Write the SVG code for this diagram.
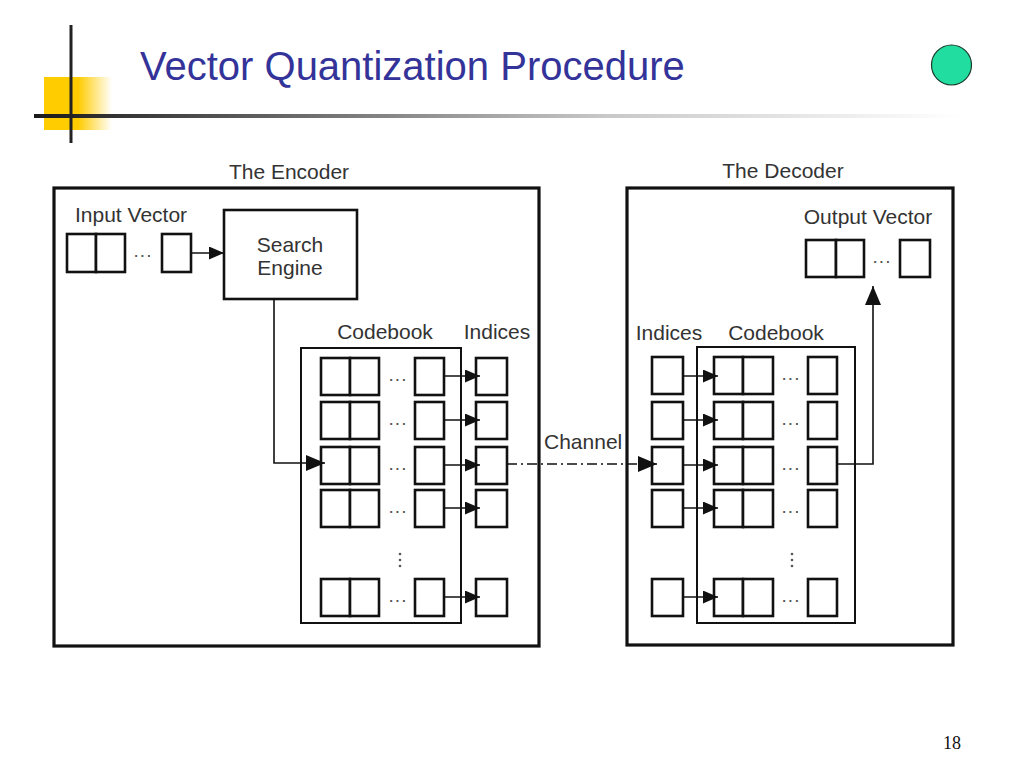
<svg xmlns="http://www.w3.org/2000/svg" width="1024" height="768" viewBox="0 0 1024 768">
<defs>
  <linearGradient id="hline" gradientUnits="userSpaceOnUse" x1="34" y1="0" x2="1000" y2="0">
    <stop offset="0" stop-color="#1a1a1a"/>
    <stop offset="0.59" stop-color="#c8c8c8"/>
    <stop offset="0.96" stop-color="#ffffff"/>
  </linearGradient>
  <linearGradient id="yel" gradientUnits="userSpaceOnUse" x1="44" y1="0" x2="112" y2="0">
    <stop offset="0" stop-color="#FFCC00"/>
    <stop offset="0.5" stop-color="#FFCC00"/>
    <stop offset="1" stop-color="#FFCC00" stop-opacity="0"/>
  </linearGradient>
  <marker id="arr" markerUnits="userSpaceOnUse" markerWidth="15" markerHeight="13" refX="15" refY="6.5" orient="auto">
    <path d="M0,0 L15,6.5 L0,13 Z" fill="#111"/>
  </marker>
  <marker id="arrB" markerUnits="userSpaceOnUse" markerWidth="19" markerHeight="16" refX="19" refY="8" orient="auto">
    <path d="M0,0 L19,8 L0,16 Z" fill="#111"/>
  </marker>
  <style>
    .lbl { font-family: "Liberation Sans", Arial, sans-serif; font-size: 21px; fill: #333; }
    .mid { text-anchor: middle; }
    .dots { font-family: "Liberation Sans", Arial, sans-serif; font-size: 19px; fill: #555; text-anchor: middle; letter-spacing: 1px; }
    .outer { fill: none; stroke: #111; stroke-width: 3.2; }
    .cb { fill: none; stroke: #111; stroke-width: 2; }
    .cell { fill: #fff; stroke: #111; stroke-width: 2.6; }
    .con { fill: none; stroke: #111; stroke-width: 1.6; }
    .vd { fill: #555; }
  </style>
</defs>
<rect width="1024" height="768" fill="#fff"/>

<!-- header decoration -->
<g id="header">
  <rect x="44" y="77" width="68" height="53" fill="url(#yel)"/>
  <rect x="34" y="114" width="966" height="4" fill="url(#hline)"/>
  <line x1="71" y1="25" x2="71" y2="143" stroke="#222" stroke-width="3"/>
  <text x="140" y="80" font-family="'Liberation Sans', Arial, sans-serif" font-size="40" fill="#333399">Vector Quantization Procedure</text>
  <circle cx="951.5" cy="65" r="20" fill="#22DDA0" stroke="#1b3b2b" stroke-width="1.2"/>
  <text x="952" y="749" font-family="'Liberation Serif', 'Times New Roman', serif" font-size="18" fill="#111" text-anchor="middle">18</text>
</g>

<!-- Encoder -->
<g id="encoder">
  <rect class="outer" x="54" y="188" width="485" height="458"/>
  <text class="lbl mid" x="289" y="179">The Encoder</text>
</g>
<g id="input-vector">
  <text class="lbl" x="75" y="222">Input Vector</text>
  <rect class="cell" x="67" y="234" width="29" height="38"/>
  <rect class="cell" x="96" y="234" width="29" height="38"/>
  <text class="dots" x="143" y="257">...</text>
  <rect class="cell" x="162" y="234" width="29" height="38"/>
</g>
<g id="search-engine">
  <rect class="cell" x="224" y="210" width="133" height="89"/>
  <text class="lbl mid" x="290" y="252">Search</text>
  <text class="lbl mid" x="290" y="275">Engine</text>
</g>
<g id="enc-codebook">
  <text class="lbl mid" x="385" y="339">Codebook</text>
  <rect class="cb" x="301" y="348" width="160" height="275"/>
  <g>
    <rect class="cell" x="321" y="358" width="29" height="37"/><rect class="cell" x="350" y="358" width="29" height="37"/>
    <text class="dots" x="398" y="381">...</text><rect class="cell" x="415" y="358" width="29" height="37"/>
    <rect class="cell" x="321" y="402" width="29" height="37"/><rect class="cell" x="350" y="402" width="29" height="37"/>
    <text class="dots" x="398" y="425">...</text><rect class="cell" x="415" y="402" width="29" height="37"/>
    <rect class="cell" x="321" y="447" width="29" height="37"/><rect class="cell" x="350" y="447" width="29" height="37"/>
    <text class="dots" x="398" y="470">...</text><rect class="cell" x="415" y="447" width="29" height="37"/>
    <rect class="cell" x="321" y="490" width="29" height="37"/><rect class="cell" x="350" y="490" width="29" height="37"/>
    <text class="dots" x="398" y="513">...</text><rect class="cell" x="415" y="490" width="29" height="37"/>
    <rect class="cell" x="321" y="579" width="29" height="37"/><rect class="cell" x="350" y="579" width="29" height="37"/>
    <text class="dots" x="398" y="602">...</text><rect class="cell" x="415" y="579" width="29" height="37"/>
    <circle class="vd" cx="400" cy="554" r="1.3"/><circle class="vd" cx="400" cy="560" r="1.3"/><circle class="vd" cx="400" cy="566" r="1.3"/>
  </g>
</g>
<g id="enc-indices">
  <text class="lbl mid" x="497" y="339">Indices</text>
  <rect class="cell" x="476" y="358" width="31" height="37"/>
  <rect class="cell" x="476" y="402" width="31" height="37"/>
  <rect class="cell" x="476" y="447" width="31" height="37"/>
  <rect class="cell" x="476" y="490" width="31" height="37"/>
  <rect class="cell" x="476" y="579" width="31" height="37"/>
</g>

<!-- Decoder -->
<g id="decoder">
  <rect class="outer" x="627" y="188" width="326" height="457"/>
  <text class="lbl mid" x="783" y="178">The Decoder</text>
</g>
<g id="output-vector">
  <text class="lbl mid" x="868" y="224">Output Vector</text>
  <rect class="cell" x="806" y="240" width="30" height="37"/>
  <rect class="cell" x="836" y="240" width="28" height="37"/>
  <text class="dots" x="882" y="263">...</text>
  <rect class="cell" x="900" y="240" width="30" height="37"/>
</g>
<g id="dec-indices">
  <text class="lbl mid" x="669" y="340">Indices</text>
  <rect class="cell" x="652" y="357" width="31" height="37"/>
  <rect class="cell" x="652" y="402" width="31" height="37"/>
  <rect class="cell" x="652" y="447" width="31" height="37"/>
  <rect class="cell" x="652" y="490" width="31" height="37"/>
  <rect class="cell" x="652" y="579" width="31" height="37"/>
</g>
<g id="dec-codebook">
  <text class="lbl mid" x="776" y="340">Codebook</text>
  <rect class="cb" x="697" y="347" width="158" height="276"/>
  <rect class="cell" x="714" y="357" width="29" height="37"/><rect class="cell" x="743" y="357" width="30" height="37"/>
  <text class="dots" x="791" y="380">...</text><rect class="cell" x="808" y="357" width="29" height="37"/>
  <rect class="cell" x="714" y="402" width="29" height="37"/><rect class="cell" x="743" y="402" width="30" height="37"/>
  <text class="dots" x="791" y="425">...</text><rect class="cell" x="808" y="402" width="29" height="37"/>
  <rect class="cell" x="714" y="447" width="29" height="37"/><rect class="cell" x="743" y="447" width="30" height="37"/>
  <text class="dots" x="791" y="470">...</text><rect class="cell" x="808" y="447" width="29" height="37"/>
  <rect class="cell" x="714" y="490" width="29" height="37"/><rect class="cell" x="743" y="490" width="30" height="37"/>
  <text class="dots" x="791" y="513">...</text><rect class="cell" x="808" y="490" width="29" height="37"/>
  <rect class="cell" x="714" y="579" width="29" height="37"/><rect class="cell" x="743" y="579" width="30" height="37"/>
  <text class="dots" x="791" y="602">...</text><rect class="cell" x="808" y="579" width="29" height="37"/>
  <circle class="vd" cx="792" cy="554" r="1.3"/><circle class="vd" cx="792" cy="560" r="1.3"/><circle class="vd" cx="792" cy="566" r="1.3"/>
</g>

<!-- Connectors -->
<g id="connectors">
  <line class="con" x1="191" y1="253" x2="224" y2="253" marker-end="url(#arr)"/>
  <path class="con" d="M274,299 V463 H325" marker-end="url(#arrB)"/>
  <line class="con" x1="444" y1="376" x2="480" y2="376" marker-end="url(#arr)"/>
  <line class="con" x1="444" y1="420" x2="480" y2="420" marker-end="url(#arr)"/>
  <line class="con" x1="444" y1="465" x2="480" y2="465" marker-end="url(#arr)"/>
  <line class="con" x1="444" y1="508" x2="480" y2="508" marker-end="url(#arr)"/>
  <line class="con" x1="444" y1="597" x2="480" y2="597" marker-end="url(#arr)"/>
  <line class="con" x1="507" y1="464" x2="657" y2="464" stroke-width="2" stroke-dasharray="10 4 2 4" marker-end="url(#arrB)"/>
  <text class="lbl" x="544" y="449">Channel</text>
  <line class="con" x1="683" y1="376" x2="718" y2="376" marker-end="url(#arr)"/>
  <line class="con" x1="683" y1="420" x2="718" y2="420" marker-end="url(#arr)"/>
  <line class="con" x1="683" y1="465" x2="718" y2="465" marker-end="url(#arr)"/>
  <line class="con" x1="683" y1="508" x2="718" y2="508" marker-end="url(#arr)"/>
  <line class="con" x1="683" y1="597" x2="718" y2="597" marker-end="url(#arr)"/>
  <path class="con" d="M837,464 H873 V286" marker-end="url(#arrB)"/>
</g>
</svg>
